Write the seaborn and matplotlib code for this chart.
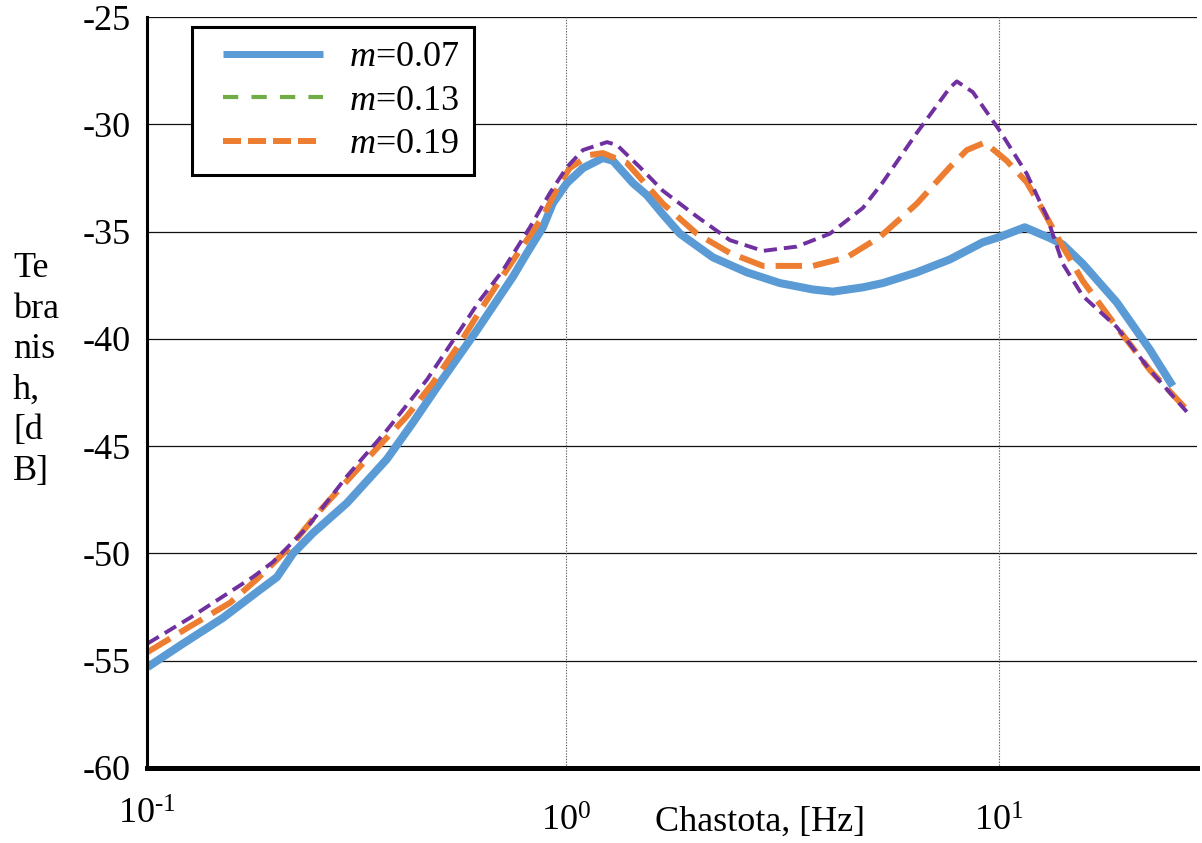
import matplotlib
matplotlib.use("Agg")
import matplotlib.pyplot as plt
from matplotlib.lines import Line2D
from matplotlib.legend_handler import HandlerLine2D
import matplotlib.transforms as mtransforms
import numpy as np
import pandas as pd
import seaborn as sns

# ---------------- data ----------------
f_m007 = [0.108, 0.1305, 0.1614, 0.1933, 0.2151, 0.2342, 0.2604, 0.312, 0.386, 0.4432,
          0.5117, 0.6228, 0.7545, 0.8128, 0.8848, 0.9332, 1.005, 1.095, 1.217, 1.284,
          1.428, 1.538, 1.675, 1.834, 2.185, 2.618, 3.121, 3.72, 4.136, 4.852,
          5.397, 6.466, 7.705, 9.184, 10.05, 11.48, 13.12, 14.05, 15.63, 18.73,
          22.33, 25.22]
db_m007 = [-55.3, -54.2, -53.0, -51.8, -51.1, -50.0, -49.05, -47.65, -45.6, -43.9,
           -42.05, -39.6, -37.1, -36.0, -34.8, -33.67, -32.74, -32.04, -31.57, -31.7,
           -32.74, -33.3, -34.2, -35.1, -36.2, -36.9, -37.4, -37.7, -37.8, -37.6,
           -37.4, -36.9, -36.3, -35.5, -35.25, -34.8, -35.3, -35.6, -36.5, -38.3,
           -40.5, -42.2]

f_m019 = [0.108, 0.1354, 0.1675, 0.1933, 0.2305, 0.2703, 0.347, 0.4293, 0.493, 0.569,
          0.6329, 0.704, 0.7831, 0.8848, 0.9686, 1.021, 1.136, 1.217, 1.383,
          1.675, 2.007, 2.392, 2.851, 3.72, 4.457, 5.312, 6.466, 7.705, 8.437,
          9.284, 10.43, 11.6, 12.64, 14.05, 15.63, 18.73, 22.33, 26.89]
db_m019 = [-54.6, -53.4, -52.3, -51.2, -49.7, -48.0, -45.6, -43.6, -42.05, -40.2,
           -38.7, -37.26, -35.86, -34.3, -32.74, -32.04, -31.43, -31.34, -31.8,
           -33.7, -35.1, -36.0, -36.6, -36.6, -36.2, -35.25, -33.7, -32.0, -31.2,
           -30.85, -31.7, -32.7, -34.0, -35.7, -37.3, -39.45, -41.45, -43.2]

f_m013 = [0.108, 0.1354, 0.1892, 0.2105, 0.2522, 0.312, 0.386, 0.4775, 0.569, 0.6329,
          0.7153, 0.8257, 0.9185, 1.005, 1.095, 1.244, 1.312, 1.482, 1.675, 2.007,
          2.392, 2.851, 3.416, 4.071, 4.852, 5.397, 6.466, 7.705, 7.998, 8.709,
          10.05, 11.6, 12.91, 14.05, 15.63, 18.73, 22.33, 27.18]
db_m013 = [-54.2, -53.0, -51.1, -50.4, -48.8, -46.4, -44.25, -41.9, -39.6, -38.2,
           -36.8, -34.8, -33.2, -32.0, -31.2, -30.83, -30.97, -32.0, -33.1, -34.3,
           -35.4, -35.9, -35.7, -35.1, -33.9, -32.7, -30.4, -28.3, -28.0, -28.5,
           -30.3, -32.3, -34.3, -36.5, -38.0, -39.45, -41.45, -43.4]

legend_labels = ["$m$=0.07", "$m$=0.13", "$m$=0.19"]
y_ticks = [-25, -30, -35, -40, -45, -50, -55, -60]
x_tick_labels = [r"$\mathregular{10^{\text{-}1}}$", r"$\mathregular{10^{0}}$",
                 r"$\mathregular{10^{1}}$"]
x_label = "Chastota, [Hz]"
y_label = "Te\nbra\nnis\nh,\n[d\nB]"

# ---------------- style ----------------
sns.set_style("white")
plt.rcParams["font.family"] = ["Liberation Serif", "DejaVu Serif"]
plt.rcParams["mathtext.fontset"] = "custom"
plt.rcParams["mathtext.rm"] = "Liberation Serif"
plt.rcParams["mathtext.it"] = "Liberation Serif:italic"
plt.rcParams["lines.scale_dashes"] = False
plt.rcParams["text.color"] = "black"
plt.rcParams["axes.labelcolor"] = "black"
plt.rcParams["xtick.color"] = "black"
plt.rcParams["ytick.color"] = "black"
plt.rcParams["axes.unicode_minus"] = False
FS = 26

BLUE = "#5B9BD5"
ORANGE = "#ED7D31"
GREEN = "#70AD47"
PURPLE = "#7030A0"

W, H = 1202, 843
fig = plt.figure(figsize=(W / 100, H / 100), dpi=100)
ax = fig.add_axes([147 / W, 1 - 768 / H, (1197 - 147) / W, (768 - 17) / H])

d1 = pd.DataFrame({"f": f_m007, "db": db_m007})
d2 = pd.DataFrame({"f": f_m019, "db": db_m019})
d3 = pd.DataFrame({"f": f_m013, "db": db_m013})

sns.lineplot(data=d1, x="f", y="db", ax=ax, color=BLUE, linewidth=5.8, sort=False,
             estimator=None, zorder=3)
sns.lineplot(data=d2, x="f", y="db", ax=ax, color=ORANGE, linewidth=4.3, sort=False,
             estimator=None, zorder=4)
ax.lines[-1].set_dashes((19, 8))
sns.lineplot(data=d3, x="f", y="db", ax=ax, color=PURPLE, linewidth=2.8, sort=False,
             estimator=None, zorder=5)
ax.lines[-1].set_dashes((9.5, 5))
for ln in ax.lines:
    ln.set_solid_capstyle("butt")
    ln.set_dash_capstyle("butt")
    ln.set_solid_joinstyle("round")
    ln.set_dash_joinstyle("round")

ax.set_xscale("log")
ax.set_xlim(0.1077, 28.7)
ax.set_ylim(-60, -25)
ax.set_yticks(y_ticks)
ax.set_yticklabels([str(v) for v in y_ticks], fontsize=FS, color="black")
ax.set_xticks([])
ax.xaxis.set_minor_locator(matplotlib.ticker.NullLocator())
ax.tick_params(axis="y", length=0, pad=12)
ax.set_xlabel("")
ax.set_ylabel("")

# grid
ax.grid(False)
for v in y_ticks:
    ax.axhline(v, color="#111111", lw=0.9, zorder=1)
for xv in [1, 10]:
    ax.axvline(xv, color="#666666", lw=0.8, dashes=(1, 1), zorder=1)

# spines
for s in ["top", "right"]:
    ax.spines[s].set_visible(False)
ax.spines["left"].set_linewidth(2.2)
ax.spines["left"].set_color("black")
ax.spines["bottom"].set_linewidth(3.6)
ax.spines["bottom"].set_color("black")
ax.spines["bottom"].set_zorder(6)
ax.spines["left"].set_zorder(6)

# x tick labels and x label as text
tr = mtransforms.blended_transform_factory(ax.transData, ax.transAxes)
ax.text(0.0, -0.0626, x_tick_labels[0], transform=ax.transAxes, ha="center", va="center",
        fontsize=FS, color="black")
ax.text(1.0, -0.0719, x_tick_labels[1], transform=tr, ha="center", va="center",
        fontsize=FS, color="black")
ax.text(10.0, -0.0719, x_tick_labels[2], transform=tr, ha="center", va="center",
        fontsize=FS, color="black")
ax.text((655 - 147) / 1050, -0.0719, x_label, transform=ax.transAxes, ha="left",
        va="center", fontsize=FS, color="black")

# y label
fig.text(13 / W, 1 - 370 / H, y_label, ha="left", va="center", fontsize=FS,
         linespacing=1.3, color="black")

# legend with proxy handles
h1 = Line2D([], [], color=BLUE, lw=5.0, solid_capstyle="butt")
h2 = Line2D([], [], color=GREEN, lw=3.0, dashes=(11, 9.5), dash_capstyle="butt")
h3 = Line2D([], [], color=ORANGE, lw=4.3, dashes=(13, 5), dash_capstyle="butt")
hm = {h: HandlerLine2D(xpad=0.47) for h in (h1, h2, h3)}
leg = ax.legend([h1, h2, h3], legend_labels, handler_map=hm,
                loc="upper left", bbox_to_anchor=(192 / W, 1 - 27 / H),
                bbox_transform=fig.transFigure, borderaxespad=0,
                fontsize=FS, frameon=True, fancybox=False, framealpha=1,
                edgecolor="black", borderpad=0.39, labelspacing=0.28,
                handlelength=3.25, handletextpad=0.72)
leg.get_frame().set_linewidth(2.2)
for t in leg.get_texts():
    t.set_color("black")
leg.set_zorder(10)

fig.savefig("out.png", dpi=100)
